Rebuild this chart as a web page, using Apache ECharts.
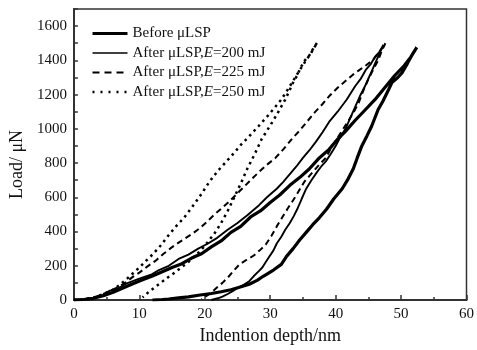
<!DOCTYPE html>
<html><head><meta charset="utf-8">
<script src="https://cdn.jsdelivr.net/npm/echarts@6/dist/echarts.min.js"></script>
<style>html,body{margin:0;padding:0;background:#fff}#c{width:477px;height:350px}</style>
</head><body><div id="c"></div>
<script>
const seriesNames = ['Before μLSP', 'After μLSP,E=200 mJ', 'After μLSP,E=225 mJ', 'After μLSP,E=250 mJ'];
const xTicks = [0, 10, 20, 30, 40, 50, 60];
const yTicks = [0, 200, 400, 600, 800, 1000, 1200, 1400, 1600];

const beforeLoad = [[0,0],[1.5,3],[3,10],[4.5,25],[6,45],[7.5,70],[9,95],[10.5,118],[12,140],[13.5,165],[15,190],[16.5,212],[18,245],[19.5,270],[21,310],[22.5,345],[24,395],[25.5,430],[27,485],[28.5,520],[30,570],[31.5,615],[33,670],[34.5,715],[36,767],[37.5,830],[39,880],[40.2,935],[41.5,985],[43,1050],[44.5,1110],[46,1170],[47.5,1240],[49,1310],[50.5,1370],[51.5,1420],[52.4,1476]];
const beforeUnload = [[52.4,1476],[51.8,1440],[51,1384],[50.2,1330],[49.5,1300],[48.6,1270],[48.1,1230],[47.2,1160],[46.5,1113],[45.5,1015],[44.8,960],[44,900],[43.3,830],[42.7,767],[41.8,700],[41,650],[39.7,590],[38.6,530],[37.5,480],[36.5,440],[35.7,404],[34.5,350],[33.5,300],[32.5,255],[31.7,208],[30.5,175],[29,140],[28,115],[26.8,92],[25.3,75],[24,60],[22.5,48],[21,38],[19.3,29],[17.5,18],[16,12],[14.5,6],[13.5,3],[12,0]];

const e200Load = [[0,0],[1.5,3],[3,12],[4.5,30],[5.5,55],[6.5,62],[8,95],[9,110],[10,125],[11.9,150],[13,175],[14.5,200],[16,240],[17.5,265],[19,300],[20.5,330],[21.9,363],[23.5,410],[25,450],[26.5,495],[28.3,554],[29.5,600],[31,650],[32,690],[33,735],[34,780],[35,830],[36,875],[37,925],[38,980],[39,1040],[40.3,1100],[41.7,1171],[43,1250],[43.8,1290],[44.6,1344],[45.4,1380],[46,1420],[46.7,1450],[47.3,1490]];
const e200Unload = [[47.3,1490],[46.6,1430],[46,1380],[45.2,1310],[44.5,1250],[43.7,1190],[43,1130],[42.2,1060],[41.5,1000],[40.7,950],[40,900],[39.2,850],[38.5,810],[37.8,780],[37.2,750],[36.3,700],[35.5,650],[34.8,590],[34.2,536],[33.6,490],[33,450],[32.3,410],[31.7,370],[31,330],[30.5,290],[29.8,250],[29.3,220],[28.8,190],[28.3,170],[27.5,140],[26.8,110],[26,90],[25,70],[24.2,50],[23.5,35],[22.7,20],[22,10],[21,0]];

const e225Load = [[0,0],[1.5,4],[3,14],[4.5,35],[6,62],[7,80],[8,105],[9,135],[10,160],[11.2,195],[12.5,230],[13.7,270],[14.9,306],[16,335],[17,360],[18.2,390],[19.3,421],[20.4,460],[21.5,500],[22.7,540],[23.8,577],[25.3,635],[26.8,692],[28.2,745],[29.5,790],[30.8,830],[32,880],[33.3,940],[34.5,990],[35.7,1045],[36.8,1096],[38,1145],[39,1190],[40.3,1240],[41.7,1286],[42.6,1315],[43.5,1340],[44.6,1370],[45.7,1401],[46.7,1450],[47.6,1500]];
const e225Unload = [[47.6,1500],[47,1450],[46.5,1400],[45.8,1350],[45,1290],[44.2,1220],[43.5,1150],[42.8,1100],[42,1050],[41,990],[40,930],[39.2,880],[38.5,830],[37.6,795],[36.8,760],[36,725],[35.2,690],[34.5,645],[33.8,600],[33.2,565],[32.7,536],[31.8,480],[31,430],[30.2,375],[29.3,323],[28.4,290],[27.5,260],[26.4,235],[25.3,208],[24.4,170],[23.5,130],[22.7,100],[21.9,75],[21.2,50],[20.5,30],[19.5,5]];

const e250Load = [[0,0],[1.5,4],[3,14],[4.5,35],[6,60],[7,88],[8,120],[9,155],[10,190],[11,228],[12,265],[13.3,320],[14.5,380],[15.6,430],[16.8,479],[18.2,550],[19.5,620],[20.7,690],[21.9,750],[23.2,805],[24.5,860],[25.6,910],[26.8,957],[28.2,1015],[29.5,1070],[30.6,1120],[31.7,1171],[32.6,1225],[33.5,1280],[34.3,1330],[35.2,1384],[36.2,1440],[37.2,1505]];
const e250Unload = [[37.2,1505],[36.6,1470],[36,1430],[35.3,1400],[34.7,1361],[34.1,1310],[33.5,1270],[32.9,1220],[32.3,1171],[31.4,1110],[30.5,1050],[29.6,995],[28.7,940],[27.6,850],[26.5,767],[25.5,680],[24.5,600],[23.5,520],[22.5,450],[21.5,390],[20.5,340],[19.4,290],[18.3,250],[17.3,215],[16.4,190],[15.4,160],[14.4,133],[13.4,104],[12.4,75],[11.4,46],[10.5,15]];

const FONT = '"Liberation Serif","DejaVu Serif",serif';
const chart = echarts.init(document.getElementById('c'), null, {renderer: 'canvas'});

const styles = [
  {type: 'solid', width: 3.2},
  {type: 'solid', width: 1.9},
  {type: [6, 4], width: 2},
  {type: [2.5, 4], width: 2.5}
];
const legendStyles = [
  {type: 'solid', width: 3},
  {type: 'solid', width: 1.6},
  {type: [7, 5], width: 2},
  {type: [2, 6], width: 2.5}
];

function mk(i, data) {
  return {
    name: seriesNames[i], type: 'line', data: data, symbol: 'none', showSymbol: false,
    smooth: false, animation: false, lineStyle: {color: '#000', width: styles[i].width, type: styles[i].type},
    itemStyle: {color: 'rgba(0,0,0,0)', borderWidth: 0}
  };
}

chart.setOption({
  animation: false,
  backgroundColor: '#fff',
  textStyle: {fontFamily: FONT},
  grid: {left: 70, right: 4, top: 9, bottom: 47, show: true, borderColor: '#333', borderWidth: 1.5, containLabel: false},
  legend: {
    orient: 'vertical', left: 91, top: 26, padding: 0,
    itemWidth: 35, itemHeight: 14, itemGap: 4.5,
    itemStyle: {opacity: 0},
    data: seriesNames.map(function (n, i) {
      return {name: n, lineStyle: {color: '#000', width: legendStyles[i].width, type: legendStyles[i].type}};
    }),
    textStyle: {fontFamily: FONT, fontSize: 15, color: '#111', rich: {i: {fontFamily: FONT, fontSize: 15, fontStyle: 'italic', color: '#111'}}},
    formatter: function (n) { return n.replace(',E=', ',{i|E}='); }
  },
  xAxis: {
    type: 'value', min: 0, max: 60, interval: 10,
    name: 'Indention depth/nm', nameLocation: 'middle', nameGap: 27,
    nameTextStyle: {fontFamily: FONT, fontSize: 18, color: '#111'},
    axisLine: {show: true, lineStyle: {color: '#333', width: 2}},
    axisTick: {show: true, inside: true, length: 5, lineStyle: {color: '#333', width: 1.5}},
    minorTick: {show: true, splitNumber: 2, length: 3, lineStyle: {color: '#333', width: 1.5}},
    axisLabel: {fontFamily: FONT, fontSize: 15, color: '#111', margin: 7,
      formatter: function (v) { return xTicks.indexOf(v) >= 0 ? String(v) : ''; }},
    splitLine: {show: false}
  },
  yAxis: {
    type: 'value', min: 0, max: 1700, interval: 100,
    name: 'Load/ μN', nameLocation: 'middle', nameGap: 35,
    nameTextStyle: {fontFamily: FONT, fontSize: 18, color: '#111', padding: [0, 20, 0, 0]},
    axisLine: {show: true, lineStyle: {color: '#333', width: 2}},
    axisTick: {show: true, inside: true, length: 4, lineStyle: {color: '#333', width: 1.5}},
    axisLabel: {fontFamily: FONT, fontSize: 15, color: '#111', margin: 7,
      formatter: function (v) { return yTicks.indexOf(v) >= 0 ? String(v) : ''; }},
    splitLine: {show: false}
  },
  series: [
    mk(0, beforeLoad.concat(beforeUnload)),
    mk(1, e200Load.concat(e200Unload)),
    mk(2, e225Load.concat(e225Unload)),
    mk(3, e250Load.concat(e250Unload))
  ]
});
</script></body></html>
